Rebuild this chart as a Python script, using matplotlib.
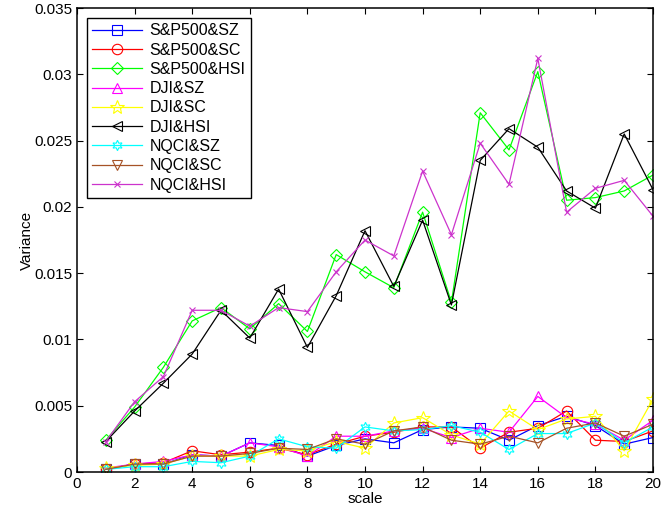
import matplotlib
matplotlib.use('Agg')
import matplotlib.pyplot as plt
from matplotlib.ticker import FormatStrFormatter

plt.rcParams['font.family'] = ['Liberation Sans', 'DejaVu Sans']

scale = list(range(1, 21))

sp500_sz = [0.0002, 0.0006, 0.0006, 0.0013, 0.0012, 0.0022, 0.0020, 0.0012, 0.0020, 0.0025,
            0.0022, 0.0032, 0.0034, 0.0033, 0.0024, 0.0035, 0.0042, 0.0035, 0.0021, 0.0026]
sp500_sc = [0.0002, 0.0006, 0.0007, 0.0016, 0.0013, 0.0015, 0.0018, 0.0013, 0.0021, 0.0027,
            0.0030, 0.0034, 0.0034, 0.0018, 0.0030, 0.0033, 0.0046, 0.0024, 0.0023, 0.0031]
sp500_hsi = [0.0024, 0.0049, 0.0079, 0.0114, 0.0124, 0.0108, 0.0127, 0.0106, 0.0164, 0.0151,
             0.0139, 0.0196, 0.0128, 0.0271, 0.0243, 0.0302, 0.0205, 0.0207, 0.0212, 0.0224]
dji_sz = [0.0003, 0.0006, 0.0008, 0.0013, 0.0012, 0.0022, 0.0019, 0.0012, 0.0027, 0.0027,
          0.0031, 0.0033, 0.0026, 0.0033, 0.0030, 0.0057, 0.0041, 0.0036, 0.0024, 0.0039]
dji_sc = [0.0003, 0.0005, 0.0006, 0.0012, 0.0012, 0.0012, 0.0017, 0.0016, 0.0023, 0.0018,
          0.0037, 0.0041, 0.0028, 0.0021, 0.0046, 0.0032, 0.0040, 0.0042, 0.0016, 0.0055]
dji_hsi = [0.0023, 0.0046, 0.0067, 0.0089, 0.0122, 0.0101, 0.0138, 0.0094, 0.0133, 0.0182,
           0.0140, 0.0190, 0.0126, 0.0235, 0.0259, 0.0245, 0.0212, 0.0199, 0.0255, 0.0213]
nqci_sz = [0.0002, 0.0004, 0.0004, 0.0008, 0.0007, 0.0012, 0.0025, 0.0019, 0.0018, 0.0034,
           0.0031, 0.0032, 0.0035, 0.0030, 0.0017, 0.0029, 0.0029, 0.0037, 0.0022, 0.0034]
nqci_sc = [0.0002, 0.0006, 0.0006, 0.0012, 0.0012, 0.0014, 0.0018, 0.0017, 0.0025, 0.0021,
           0.0031, 0.0034, 0.0024, 0.0021, 0.0027, 0.0022, 0.0033, 0.0037, 0.0027, 0.0036]
nqci_hsi = [0.0023, 0.0053, 0.0072, 0.0122, 0.0122, 0.0110, 0.0124, 0.0121, 0.0151, 0.0175,
            0.0163, 0.0227, 0.0179, 0.0248, 0.0217, 0.0312, 0.0196, 0.0214, 0.0220, 0.0193]

series = [
    ('S&P500&SZ', sp500_sz, (0, 0, 1), 's'),
    ('S&P500&SC', sp500_sc, (1, 0, 0), 'o'),
    ('S&P500&HSI', sp500_hsi, (0, 1, 0), 'D'),
    ('DJI&SZ', dji_sz, (1, 0, 1), '^'),
    ('DJI&SC', dji_sc, (1, 1, 0), '*'),
    ('DJI&HSI', dji_hsi, (0, 0, 0), '<'),
    ('NQCI&SZ', nqci_sz, (0, 1, 1), (6, 1, 0)),
    ('NQCI&SC', nqci_sc, (0.65, 0.32, 0.15), 'v'),
    ('NQCI&HSI', nqci_hsi, (0.8, 0.2, 0.8), 'x'),
]

fig = plt.figure(figsize=(6.61, 5.14), dpi=100)
ax = fig.add_axes([0.1165, 0.0817, 0.8714, 0.9027])

for name, vals, color, marker in series:
    ms = 7.5
    if marker == 'D':
        ms = 6.5
    elif marker == '*':
        ms = 10.5
    elif marker == 'x':
        ms = 5
    ax.plot(scale, vals, color=color, marker=marker, markersize=ms,
            markerfacecolor='none', markeredgecolor=color, markeredgewidth=0.8,
            linewidth=0.9, label=name)

ax.set_xlim(0, 20)
ax.set_ylim(0, 0.035)
ax.set_xticks(range(0, 21, 2))
ax.set_yticks([0, 0.005, 0.01, 0.015, 0.02, 0.025, 0.03, 0.035])
ax.yaxis.set_major_formatter(FormatStrFormatter('%g'))
ax.tick_params(direction='in', top=True, right=True, labelsize=11, length=4)
for sp in ax.spines.values():
    sp.set_linewidth(1.1)
ax.set_xlabel('scale', fontsize=11, labelpad=1)
ax.set_ylabel('Variance', fontsize=11)
ax.yaxis.set_label_coords(-0.075, 0.5)

leg = ax.legend(loc='upper left', fontsize=11.5, fancybox=False, framealpha=1,
                edgecolor='black', handlelength=3.1, labelspacing=0.27,
                borderaxespad=0.6, handletextpad=0.5, borderpad=0.35)
leg.get_frame().set_linewidth(1.0)

fig.savefig('out.png', dpi=100)
